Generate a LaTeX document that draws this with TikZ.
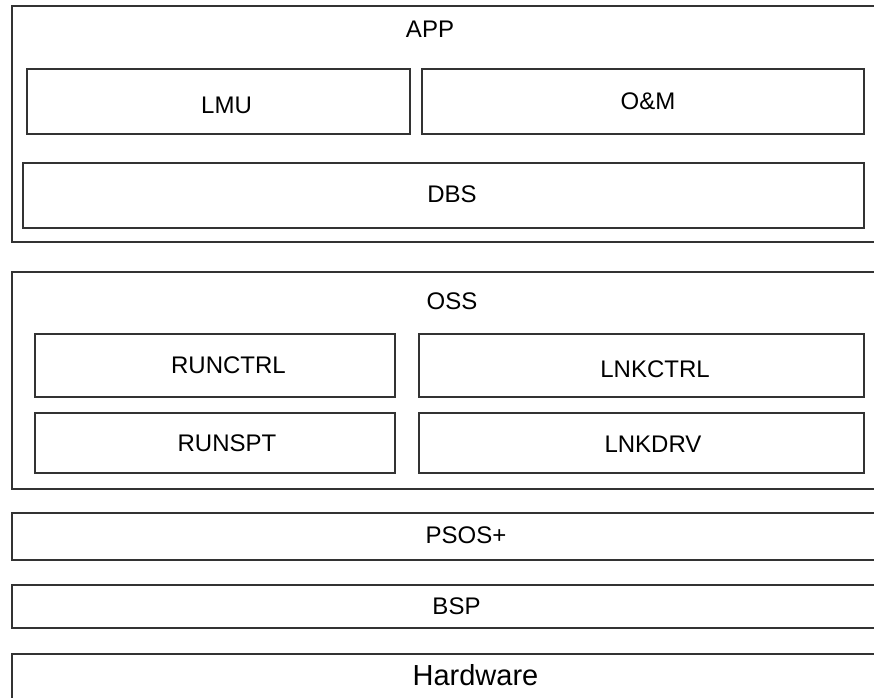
\documentclass[tikz,border=0pt]{standalone}
\usepackage{fontspec}
\setmainfont{Liberation Sans}
\usetikzlibrary{fit}
\begin{document}
\begin{tikzpicture}[x=1pt,y=-1pt,
  box/.style={draw=black!80, line width=1.1pt, inner sep=0pt, fit={#1}},
  lbl/.style={inner sep=0pt, font=\fontsize{24}{28}\selectfont},
  biglbl/.style={inner sep=0pt, font=\fontsize{29}{33}\selectfont}]
\useasboundingbox (0,0) rectangle (874,697);
\clip (0,0) rectangle (874,697);
\fill[white] (0,0) rectangle (874,697);

% application layer
\node[box={(12,6) (890,242)}] (app) {};
\node[lbl] (appl) at (430,29) {APP};
\node[box={(27,69) (410,134)}] (lmu) {};
\node[lbl] (lmul) at (226.5,105) {LMU};
\node[box={(422,69) (864,134)}] (om) {};
\node[lbl] (oml) at (648,101) {O\&M};
\node[box={(23,163) (864,228)}] (dbs) {};
\node[lbl] (dbsl) at (452,194) {DBS};

% operating support subsystem
\node[box={(12,272) (890,489)}] (oss) {};
\node[lbl] (ossl) at (452,301) {OSS};
\node[box={(35,334) (395,397)}] (runctrl) {};
\node[lbl] (runctrll) at (228.5,365.5) {RUNCTRL};
\node[box={(419,334) (864,397)}] (lnkctrl) {};
\node[lbl] (lnkctrll) at (655,369) {LNKCTRL};
\node[box={(35,413) (395,473)}] (runspt) {};
\node[lbl] (runsptl) at (227,443) {RUNSPT};
\node[box={(419,413) (864,473)}] (lnkdrv) {};
\node[lbl] (lnkdrvl) at (653,444.5) {LNKDRV};

% lower layers
\node[box={(12,513) (890,560)}] (psos) {};
\node[lbl] (psosl) at (466,535) {PSOS+};
\node[box={(12,585) (890,628)}] (bsp) {};
\node[lbl] (bspl) at (456.5,606.5) {BSP};
\node[box={(12,654) (890,710)}] (hw) {};
\node[biglbl] (hwl) at (475.5,675) {Hardware};
\end{tikzpicture}
\end{document}
